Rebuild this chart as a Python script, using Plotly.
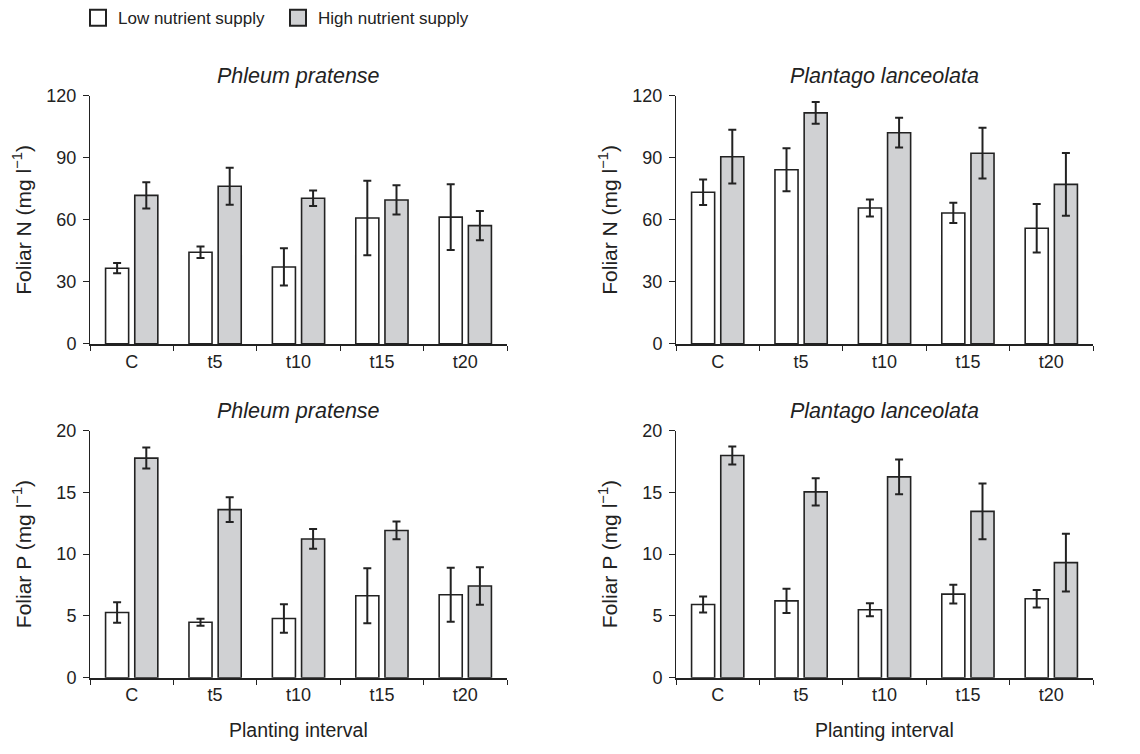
import plotly.graph_objects as go

categories = ["C", "t5", "t10", "t15", "t20"]

phleum_N_low = [36.6, 44.3, 37.2, 60.9, 61.3]
phleum_N_low_err = [2.5, 2.8, 9.0, 18.0, 15.9]
phleum_N_high = [71.8, 76.2, 70.4, 69.6, 57.2]
phleum_N_high_err = [6.4, 8.9, 3.7, 7.1, 7.1]

plantago_N_low = [73.3, 84.2, 65.7, 63.3, 55.9]
plantago_N_low_err = [6.2, 10.4, 4.1, 4.9, 11.7]
plantago_N_high = [90.5, 111.7, 102.1, 92.2, 77.1]
plantago_N_high_err = [13.0, 5.3, 7.2, 12.3, 15.2]

phleum_P_low = [5.28, 4.49, 4.8, 6.64, 6.72]
phleum_P_low_err = [0.83, 0.28, 1.15, 2.23, 2.18]
phleum_P_high = [17.77, 13.6, 11.23, 11.92, 7.43]
phleum_P_high_err = [0.85, 1.0, 0.8, 0.72, 1.52]

plantago_P_low = [5.93, 6.22, 5.51, 6.77, 6.4]
plantago_P_low_err = [0.64, 0.98, 0.53, 0.76, 0.71]
plantago_P_high = [17.98, 15.04, 16.25, 13.46, 9.32]
plantago_P_high_err = [0.72, 1.1, 1.4, 2.26, 2.34]

series_names = ["Low nutrient supply", "High nutrient supply"]
colors = ["#ffffff", "#d0d1d3"]
INK = "#222222"
FONT = "Liberation Sans, Arial, sans-serif"

W, H = 1140, 754

panels = [
    ("x", "y", phleum_N_low, phleum_N_low_err, phleum_N_high, phleum_N_high_err,
     "Phleum pratense", "Foliar N (mg l<sup>−1</sup>)", [0, 120], 30),
    ("x2", "y2", plantago_N_low, plantago_N_low_err, plantago_N_high, plantago_N_high_err,
     "Plantago lanceolata", "Foliar N (mg l<sup>−1</sup>)", [0, 120], 30),
    ("x3", "y3", phleum_P_low, phleum_P_low_err, phleum_P_high, phleum_P_high_err,
     "Phleum pratense", "Foliar P (mg l<sup>−1</sup>)", [0, 20], 5),
    ("x4", "y4", plantago_P_low, plantago_P_low_err, plantago_P_high, plantago_P_high_err,
     "Plantago lanceolata", "Foliar P (mg l<sup>−1</sup>)", [0, 20], 5),
]

x_left = (90, 507)
x_right = (676, 1093)
y_top = (88, 343)
y_bot = (432, 686)

def xd(px):
    return [px[0] / W, px[1] / W]

def yd(py):
    return [1 - py[1] / H, 1 - py[0] / H]

boxes = [(x_left, y_top), (x_right, y_top), (x_left, y_bot), (x_right, y_bot)]

fig = go.Figure()

for i, (xa, ya, lo, loe, hi, hie, title, ytitle, yr, dt) in enumerate(panels):
    for j, (vals, errs) in enumerate([(lo, loe), (hi, hie)]):
        fig.add_trace(go.Bar(
            x=categories, y=vals, xaxis=xa, yaxis=ya,
            name=series_names[j], showlegend=False,
            offsetgroup=str(j),
            marker=dict(color=colors[j], line=dict(color=INK, width=1.6)),
            error_y=dict(type="data", array=errs, visible=True,
                         color=INK, thickness=2, width=4),
        ))

for j in range(2):
    fig.add_trace(go.Scatter(
        x=[None], y=[None], mode="markers", name=series_names[j],
        marker=dict(symbol="square", size=18, color=colors[j],
                    line=dict(color=INK, width=2)),
        showlegend=True, xaxis="x", yaxis="y",
    ))

layout = dict(
    width=W, height=H,
    margin=dict(l=0, r=0, t=0, b=0),
    paper_bgcolor="white", plot_bgcolor="white",
    font=dict(family=FONT, size=18, color=INK),
    barmode="group", bargap=0.30, bargroupgap=0.21,
    legend=dict(orientation="h", x=78 / W, y=1 + 10 / H, xanchor="left", yanchor="top",
                font=dict(size=17, color=INK), itemsizing="trace",
                entrywidth=155, entrywidthmode="pixels",
                bgcolor="rgba(0,0,0,0)"),
)

annotations = []
for i, (xa, ya, lo, loe, hi, hie, title, ytitle, yr, dt) in enumerate(panels):
    bx, by = boxes[i]
    xkey = "xaxis" if i == 0 else f"xaxis{i+1}"
    ykey = "yaxis" if i == 0 else f"yaxis{i+1}"
    layout[xkey] = dict(
        domain=xd(bx), anchor=ya, type="category",
        categoryorder="array", categoryarray=categories,
        range=[-0.5, 4.5], tickson="boundaries",
        ticks="outside", ticklen=5, tickwidth=1.2, tickcolor=INK,
        showline=True, linecolor=INK, linewidth=2,
        showgrid=False, zeroline=False, fixedrange=True,
        tickfont=dict(size=18, color=INK),
    )
    layout[ykey] = dict(
        domain=yd(by), anchor=xa, range=yr, dtick=dt, tick0=0,
        ticks="outside", ticklen=6, tickwidth=1, tickcolor=INK,
        showline=True, linecolor=INK, linewidth=1,
        showgrid=False, zeroline=False, fixedrange=True,
        tickfont=dict(size=18, color=INK), ticklabelstandoff=3,
    )
    annotations.append(dict(
        text=f"<i>{title}</i>", xref="paper", yref="paper",
        x=(bx[0] + bx[1]) / 2 / W, y=1 - (by[0] - 20) / H,
        xanchor="center", yanchor="middle", showarrow=False,
        font=dict(size=21.5, color=INK),
    ))
    annotations.append(dict(
        text=ytitle, xref="paper", yref="paper",
        x=(bx[0] - 68) / W, y=1 - ((by[0] + by[1]) / 2) / H,
        xanchor="center", yanchor="middle", showarrow=False, textangle=-90,
        font=dict(size=21, color=INK),
    ))
    if i >= 2:
        annotations.append(dict(
            text="Planting interval", xref="paper", yref="paper",
            x=(bx[0] + bx[1]) / 2 / W, y=1 - 740 / H,
            xanchor="center", yanchor="middle", showarrow=False,
            font=dict(size=19.5, color=INK),
        ))

layout["annotations"] = annotations
fig.update_layout(**layout)

fig.write_html("out.html")
